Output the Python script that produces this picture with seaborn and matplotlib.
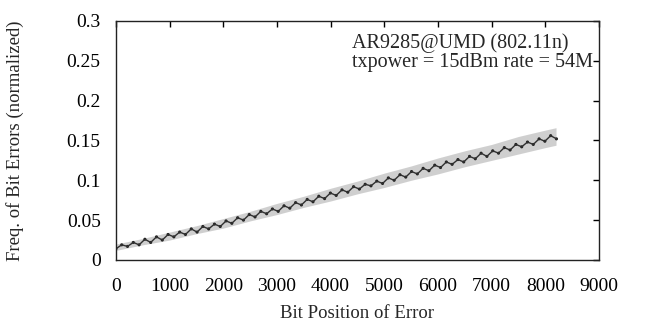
import numpy as np
import pandas as pd
import seaborn as sns
import matplotlib
matplotlib.use("Agg")
import matplotlib.pyplot as plt

# ---------------------------------------------------------
# Values
# ---------------------------------------------------------
# bit positions every half OFDM symbol (216 bits / 2)
bit_pos = [0, 108, 216, 324, 432, 540, 648, 756, 864, 972,
           1080, 1188, 1296, 1404, 1512, 1620, 1728, 1836, 1944, 2052,
           2160, 2268, 2376, 2484, 2592, 2700, 2808, 2916, 3024, 3132,
           3240, 3348, 3456, 3564, 3672, 3780, 3888, 3996, 4104, 4212,
           4320, 4428, 4536, 4644, 4752, 4860, 4968, 5076, 5184, 5292,
           5400, 5508, 5616, 5724, 5832, 5940, 6048, 6156, 6264, 6372,
           6480, 6588, 6696, 6804, 6912, 7020, 7128, 7236, 7344, 7452,
           7560, 7668, 7776, 7884, 7992, 8100, 8208]
# sawtooth centre of the error frequency
err_freq = [0.014, 0.019, 0.017, 0.022, 0.019, 0.026, 0.022, 0.029, 0.025, 0.032,
            0.029, 0.035, 0.032, 0.039, 0.035, 0.042, 0.039, 0.045, 0.042, 0.049,
            0.046, 0.053, 0.050, 0.057, 0.054, 0.061, 0.058, 0.064, 0.061, 0.068,
            0.065, 0.072, 0.069, 0.076, 0.073, 0.080, 0.077, 0.084, 0.081, 0.088,
            0.085, 0.092, 0.089, 0.095, 0.093, 0.099, 0.096, 0.103, 0.100, 0.107,
            0.104, 0.111, 0.108, 0.115, 0.112, 0.119, 0.116, 0.123, 0.120, 0.126,
            0.123, 0.130, 0.127, 0.134, 0.130, 0.137, 0.134, 0.141, 0.138, 0.145,
            0.142, 0.148, 0.145, 0.152, 0.149, 0.156, 0.152]

# scatter envelope of the individual samples
env_pos = [0, 500, 1000, 1500, 2000, 2500, 3000, 3500, 4000, 4500,
           5000, 5500, 6000, 6500, 7000, 7500, 8000, 8200]
env_upper = [0.020, 0.027, 0.035, 0.043, 0.052, 0.061, 0.071, 0.080, 0.090, 0.099,
             0.109, 0.118, 0.128, 0.137, 0.145, 0.155, 0.163, 0.166]
env_lower = [0.012, 0.019, 0.025, 0.033, 0.040, 0.049, 0.057, 0.066, 0.074, 0.083,
             0.091, 0.100, 0.108, 0.117, 0.125, 0.133, 0.141, 0.144]

x_ticks = [0, 1000, 2000, 3000, 4000, 5000, 6000, 7000, 8000, 9000]
y_ticks = [0, 0.05, 0.1, 0.15, 0.2, 0.25, 0.3]
y_tick_labels = ["0", "0.05", "0.1", "0.15", "0.2", "0.25", "0.3"]

df = pd.DataFrame({"bit": bit_pos, "freq": err_freq})

# ---------------------------------------------------------
# Plot (gnuplot-like look)
# ---------------------------------------------------------
sns.set_style("white")
plt.rcParams["font.family"] = ["Liberation Serif", "DejaVu Serif"]

fig = plt.figure(figsize=(6.70, 3.27), dpi=100)
ax = fig.add_axes([0.173, 0.205, 0.721, 0.731])

ax.fill_between(env_pos, env_lower, env_upper, color="#c4c4c4", alpha=0.8, lw=0)
sns.lineplot(data=df, x="bit", y="freq", ax=ax, color="#303030", lw=1.0)
sns.scatterplot(data=df, x="bit", y="freq", ax=ax, color="#222222", s=5,
                edgecolor="none")

ax.set_xlim(0, 9000)
ax.set_ylim(0, 0.3)
ax.set_xticks(x_ticks)
ax.set_yticks(y_ticks)
ax.set_yticklabels(y_tick_labels)
ax.tick_params(direction="in", length=4, width=1, top=True, right=True,
               labelsize=14, colors="black")
ax.tick_params(axis="x", pad=13)
ax.tick_params(axis="y", pad=11)
for side in ["left", "right", "top", "bottom"]:
    ax.spines[side].set_color("#222222")
    ax.spines[side].set_linewidth(1)

ax.set_xlabel("Bit Position of Error", fontsize=13.5)
ax.set_ylabel("Freq. of Bit Errors (normalized)", fontsize=13.5)
ax.yaxis.set_label_coords(-0.19, 0.5)
ax.xaxis.set_label_coords(0.5, -0.188)

ax.text(4400, 0.284, "AR9285@UMD (802.11n)\ntxpower = 15dBm rate = 54M",
        fontsize=14.5, va="top", ha="left", linespacing=0.95)

fig.savefig("out.png", dpi=100)
